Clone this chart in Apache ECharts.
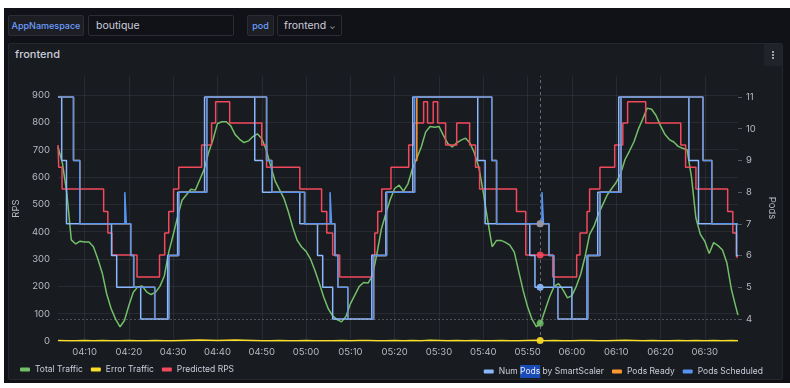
<!DOCTYPE html>
<html><head><meta charset="utf-8">
<script src="https://cdn.jsdelivr.net/npm/echarts@6/dist/echarts.min.js"></script>
<style>
html,body{margin:0;padding:0;background:#fff;width:790px;height:388px;overflow:hidden;font-family:Inter,"Noto Sans",sans-serif;}
#bg{position:absolute;left:4px;top:8px;width:786px;height:375px;background:#111217;}
.box{position:absolute;top:15px;height:21px;box-sizing:border-box;border:1px solid #2a2d33;border-radius:2px;line-height:19px;white-space:nowrap;}
.lbl{background:#1c1e23;color:#6e9fff;font-size:9px;font-weight:500;text-align:center;}
.inp{background:#111217;color:#ccccdc;font-size:10.5px;padding-left:7px;}
#panel{position:absolute;left:8px;top:43px;width:775px;height:337px;box-sizing:border-box;background:#181b1f;border:1px solid #25272c;border-radius:2px;}
#title{position:absolute;left:15px;top:46px;font-size:11px;font-weight:500;color:#ccccdc;line-height:16px;}
#menu{position:absolute;left:764px;top:44px;width:18px;height:22px;background:#202329;border-radius:2px;}
#menu i{position:absolute;left:8px;width:2px;height:2px;background:#9fa1a8;}
#chart{position:absolute;left:0;top:0;width:790px;height:388px;}
</style></head>
<body>
<div id="bg"></div>
<div class="box lbl" style="left:8px;width:76px;">AppNamespace</div>
<div class="box inp" style="left:88px;width:146px;">boutique</div>
<div class="box lbl" style="left:247px;width:27px;">pod</div>
<div class="box inp" style="left:277px;width:65px;padding-left:6px;">frontend <span style="font-size:8px;color:#9fa1a8;">&#8964;</span></div>
<div id="panel"></div>
<div id="title">frontend</div>
<div id="menu"><i style="top:7px"></i><i style="top:10px"></i><i style="top:13px"></i></div>
<div id="chart"></div>
<script>
// ---- data ----
const START = '04:04:00';
const END = '06:37:30';
const HOVER = '05:52:50';
// Total Traffic: one sample per minute from 04:04, last sample at 06:37:30
const totalTraffic = [710,650,540,370,355,365,362,362,345,300,
 248,172,118,80,52,75,130,178,198,201,
 180,170,178,200,238,325,388,455,515,535,
 555,552,590,628,690,737,796,802,802,787,
 755,738,726,732,748,758,740,700,640,586,
 554,522,473,415,368,344,328,300,258,210,
 160,118,92,78,70,90,136,168,200,214,
 212,240,320,410,466,518,558,570,548,575,
 630,670,710,765,785,782,785,752,722,710,
 725,735,742,724,688,635,545,440,345,368,
 368,361,351,325,255,185,125,80,52,68,
 115,163,200,210,187,158,166,200,245,310,
 390,420,465,500,535,558,580,612,664,695,
 728,775,812,852,848,825,788,756,737,728,
 712,705,700,600,450,390,365,320,360,349,
 333,285,190,125,95];
// Error Traffic: one sample every 2 minutes from 04:04
const errorTraffic = [2,1,1,2,1,2,1,1,2,1, 1,2,1,1,2,3,4,3,2,3, 4,3,2,1,1,2,1,1,2,1,
 1,1,2,1,2,2,1,1,2,1, 2,1,3,2,1,2,1,2,1,1, 2,1,1,2,3,1,2,1,1,2, 2,1,1,2,3,2,1,2,1,1,
 2,1,2,1,2,1,2,1];
const predictedRps = [['04:04:00',717],['04:04:10',636],['04:04:55',556],['04:14:18',474],['04:15:15',395],['04:16:10',315],['04:21:50',234],['04:26:55',315],['04:28:05',395],['04:29:00',474],['04:30:05',556],['04:31:15',636],['04:36:25',717],['04:38:40',798],['04:39:35',875],['04:42:45',798],['04:50:00',717],['04:51:05',636],['04:58:35',556],['05:03:30',474],['05:04:40',395],['05:06:00',315],['05:07:35',234],['05:14:50',315],['05:15:30',395],['05:16:10',474],['05:17:05',556],['05:19:10',636],['05:23:10',717],['05:24:18',798],['05:26:32',875],['05:27:25',798],['05:28:42',875],['05:29:42',798],['05:31:30',717],['05:34:00',798],['05:36:55',717],['05:38:15',636],['05:39:10',556],['05:47:30',474],['05:49:35',315],['05:55:40',234],['06:01:05',315],['06:01:50',395],['06:03:25',474],['06:04:00',556],['06:06:20',636],['06:09:40',717],['06:11:30',798],['06:12:35',875],['06:16:40',798],['06:24:35',717],['06:25:40',636],['06:28:00',556],['06:35:10',474],['06:36:20',395],['06:37:10',307],['06:37:30',307]];
const numPodsSmartScaler = [['04:04:00',11],['04:04:50',9],['04:05:55',7],['04:16:05',6],['04:17:15',5],['04:22:40',4],['04:28:45',6],['04:31:00',8],['04:37:05',11],['04:48:25',9],['04:50:10',8],['04:58:35',7],['05:02:35',6],['05:03:45',5],['05:06:00',4],['05:14:50',6],['05:18:00',8],['05:24:05',11],['05:38:45',9],['05:40:25',7],['05:50:30',6],['05:51:40',5],['06:00:00',4],['06:03:25',6],['06:05:50',8],['06:10:35',11],['06:26:25',9],['06:28:35',7],['06:37:10',6],['06:37:30',6]];
const podsScheduled = [['04:04:00',11],['04:07:30',9],['04:08:55',7],['04:19:05',8],['04:19:25',7],['04:20:25',6],['04:21:05',5],['04:25:50',4],['04:29:00',6],['04:31:15',8],['04:37:35',11],['04:51:05',9],['04:52:15',8],['04:59:40',7],['05:05:25',8],['05:05:45',7],['05:06:30',6],['05:07:10',5],['05:09:25',4],['05:15:15',6],['05:18:10',8],['05:24:30',11],['05:41:55',9],['05:43:00',7],['05:53:15',8],['05:53:35',7],['05:54:50',6],['05:55:55',5],['05:56:50',4],['06:03:35',6],['06:06:20',8],['06:11:05',11],['06:29:35',9],['06:31:35',7],['06:37:30',7]];
const podsReady = [['04:04:00',11],['04:07:30',9],['04:08:55',7],['04:20:25',6],['04:21:05',5],['04:25:50',4],['04:29:00',6],['04:31:15',8],['04:37:35',11],['04:51:05',9],['04:52:15',8],['04:59:40',7],['05:06:30',6],['05:07:10',5],['05:09:25',4],['05:15:15',6],['05:18:10',8],['05:24:30',9],['05:25:00',11],['05:41:55',9],['05:43:00',7],['05:54:50',6],['05:55:55',5],['05:56:50',4],['06:03:35',6],['06:06:20',8],['06:11:05',11],['06:29:35',9],['06:31:35',7],['06:37:30',7]];
const rpsTicks = {min: 0, interval: 100};
const podTicks = {min: 4, max: 11, interval: 1};

// ---- helpers ----
function toMin(s){const p=s.split(':').map(Number);return p[0]*60+p[1]+(p[2]||0)/60;}
function pad(n){return (n<10?'0':'')+n;}
function fmtMin(v){const r=Math.round(v);return pad(Math.floor(r/60))+':'+pad(r%60);}
const t0 = toMin(START), t1 = toMin(END), th = toMin(HOVER);
const steps = a => a.map(d => [toMin(d[0]), d[1]]);
function stepAt(a, t){let v=a[0][1];for(const d of a){if(toMin(d[0])<=t)v=d[1];}return v;}
const trafficData = totalTraffic.map((v,i)=>[Math.min(t0+i,t1),v]);
const errorData = errorTraffic.map((v,i)=>[Math.min(t0+2*i,t1),v]);
function interpAt(data,t){for(let i=1;i<data.length;i++){if(data[i][0]>=t){const a=data[i-1],b=data[i];return a[1]+(b[1]-a[1])*(t-a[0])/(b[0]-a[0]);}}return data[data.length-1][1];}

const C = {green:'#73bf69', yellow:'#fade2a', red:'#f2495c', light:'#8ab8ff', orange:'#ff9830', blue:'#5794f2'};
const txt = '#b9bac2', gridCol = 'rgba(204,204,220,0.09)';
const FONT = 'Inter';

const chart = echarts.init(document.getElementById('chart'), null, {renderer:'canvas'});
const lineBase = {type:'line', showSymbol:false, symbol:'none', animation:false, lineStyle:{width:1.5}};
const stepBase = Object.assign({}, lineBase, {step:'end'});
const legendText = {color:'#ccccdc', fontSize:8.5, fontFamily:FONT};

chart.setOption({
  animation:false,
  backgroundColor:'transparent',
  grid:[
    {left:58, right:52, top:76, bottom:47},
    {left:58, right:52, top:97, bottom:69}
  ],
  xAxis:[
    {type:'value', gridIndex:0, min:t0, max:t1, splitNumber:15,
     axisLine:{show:false}, axisTick:{show:false},
     axisLabel:{color:txt, fontSize:9.5, fontFamily:FONT, margin:6, showMinLabel:false, showMaxLabel:false, formatter:fmtMin},
     splitLine:{show:true, showMinLine:false, showMaxLine:false, lineStyle:{color:gridCol, width:1}}},
    {type:'value', gridIndex:1, min:t0, max:t1, show:false}
  ],
  yAxis:[
    {type:'value', gridIndex:0, min:rpsTicks.min, max:969.5, interval:rpsTicks.interval,
     name:'RPS', nameLocation:'middle', nameGap:35, nameRotate:90,
     nameTextStyle:{color:txt, fontSize:9.5, fontFamily:FONT},
     axisLine:{show:false}, axisTick:{show:false},
     axisLabel:{color:txt, fontSize:9.5, fontFamily:FONT, margin:8, showMaxLabel:false},
     splitLine:{show:true, showMaxLine:false, lineStyle:{color:gridCol, width:1}}},
    {type:'value', gridIndex:1, position:'right', min:podTicks.min, max:podTicks.max, interval:podTicks.interval,
     name:'Pods', nameLocation:'middle', nameGap:28, nameRotate:-90,
     nameTextStyle:{color:txt, fontSize:9.5, fontFamily:FONT},
     axisLine:{show:false}, axisTick:{show:true, length:4, lineStyle:{color:'rgba(204,204,220,0.35)'}},
     axisLabel:{color:txt, fontSize:9.5, fontFamily:FONT, margin:8},
     splitLine:{show:false}}
  ],
  legend:[
    {left:15, top:360, itemWidth:10, itemHeight:4, itemGap:8, icon:'roundRect', textStyle:legendText,
     data:['Total Traffic','Error Traffic','Predicted RPS']},
    {right:22, top:360, itemWidth:10, itemHeight:4, itemGap:8, icon:'roundRect',
     textStyle:Object.assign({}, legendText, {rich:{a:{color:'#ccccdc', fontSize:8.5, fontFamily:FONT}, s:{color:'#e8eaf2', fontSize:8.5, fontFamily:FONT, backgroundColor:'#1a4cb8', padding:[2,0,2,0]}}}),
     formatter: n => n==='Num Pods by SmartScaler' ? '{a|Num }{s|Pods}{a| by SmartScaler}' : n,
     data:['Num Pods by SmartScaler','Pods Ready','Pods Scheduled']}
  ],
  series:[
    Object.assign({}, lineBase, {name:'Total Traffic', xAxisIndex:0, yAxisIndex:0, color:C.green, data:trafficData, z:3,
      markLine:{silent:true, symbol:'none', label:{show:false}, animation:false,
        lineStyle:{color:'rgba(204,204,220,0.45)', type:[3,3], width:1}, data:[{xAxis:th}]}}),
    Object.assign({}, lineBase, {name:'Error Traffic', xAxisIndex:0, yAxisIndex:0, color:C.yellow, data:errorData, z:3}),
    Object.assign({}, stepBase, {name:'Predicted RPS', xAxisIndex:0, yAxisIndex:0, color:C.red, data:steps(predictedRps), z:3}),
    Object.assign({}, stepBase, {name:'Num Pods by SmartScaler', xAxisIndex:1, yAxisIndex:1, color:C.light, clip:false, data:steps(numPodsSmartScaler), z:3,
      markLine:{silent:true, symbol:'none', label:{show:false}, animation:false,
        lineStyle:{color:'rgba(204,204,220,0.3)', type:[2,2], width:1}, data:[{yAxis:podTicks.min}]}}),
    Object.assign({}, stepBase, {name:'Pods Ready', xAxisIndex:1, yAxisIndex:1, color:C.orange, clip:false, data:steps(podsReady), z:3}),
    Object.assign({}, stepBase, {name:'Pods Scheduled', xAxisIndex:1, yAxisIndex:1, color:C.blue, clip:false, data:steps(podsScheduled), z:3}),
    {type:'scatter', xAxisIndex:0, yAxisIndex:0, symbolSize:7, z:5, animation:false, silent:true,
     data:[
       {value:[th, interpAt(trafficData, th)], itemStyle:{color:C.green, opacity:0.85}},
       {value:[th, interpAt(errorData, th)], itemStyle:{color:C.yellow, opacity:0.9}},
       {value:[th, stepAt(predictedRps, th)], itemStyle:{color:C.red, opacity:0.9}}
     ]},
    {type:'scatter', xAxisIndex:1, yAxisIndex:1, symbolSize:7, z:5, animation:false, silent:true, clip:false,
     data:[
       {value:[th, stepAt(numPodsSmartScaler, th)], itemStyle:{color:C.light, opacity:0.9}},
       {value:[th, stepAt(podsReady, th)], itemStyle:{color:C.orange, opacity:0.9}},
       {value:[th, stepAt(podsScheduled, th)], itemStyle:{color:C.blue, opacity:0.6}}
     ]}
  ]
});
</script>
</body></html>
